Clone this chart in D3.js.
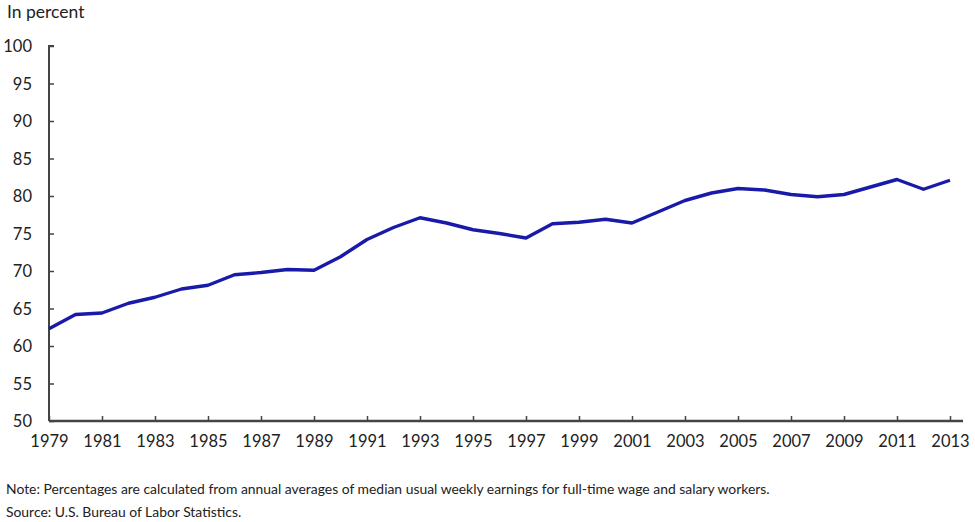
<!DOCTYPE html>
<html><head><meta charset="utf-8">
<script src="https://cdn.jsdelivr.net/npm/d3@7"></script>
<style>body{margin:0;background:#fff}svg{display:block}text{font-family:Lato,"Open Sans",sans-serif;fill:#222}</style>
</head><body><svg id="c" width="975" height="522"></svg>
<script>
const years = [1979,1980,1981,1982,1983,1984,1985,1986,1987,1988,1989,1990,1991,1992,1993,1994,1995,1996,1997,1998,1999,2000,2001,2002,2003,2004,2005,2006,2007,2008,2009,2010,2011,2012,2013];
const ratio = [62.3,64.2,64.4,65.7,66.5,67.6,68.1,69.5,69.8,70.2,70.1,71.9,74.2,75.8,77.1,76.4,75.5,75.0,74.4,76.3,76.5,76.9,76.4,77.9,79.4,80.4,81.0,80.8,80.2,79.9,80.2,81.2,82.2,80.9,82.1];
const yTicks = [50,55,60,65,70,75,80,85,90,95,100];
const xTicks = [1979,1981,1983,1985,1987,1989,1991,1993,1995,1997,1999,2001,2003,2005,2007,2009,2011,2013];
const yLabel = "In percent";
const note = "Note: Percentages are calculated from annual averages of median usual weekly earnings for full-time wage and salary workers.";
const source = "Source: U.S. Bureau of Labor Statistics.";

const svg = d3.select("#c");
const x = d3.scaleLinear().domain([1979,2013]).range([49,950]);
const y = d3.scaleLinear().domain([50,100]).range([421,46]);
const axisColor = "#444";

// y axis
const ya = svg.append("g").attr("transform","translate(49,0)")
  .call(d3.axisRight(y).tickValues(yTicks).tickSize(5).tickFormat(d=>d));
ya.select(".domain").attr("stroke",axisColor).attr("stroke-width",2).attr("d","M5,46H0V421");
ya.selectAll(".tick line").attr("stroke",axisColor).attr("stroke-width",1.5);
ya.selectAll(".tick text").attr("x",-17).attr("text-anchor","end").attr("font-size",16.5).attr("fill","#222").attr("dy","0.36em");

// x axis
const xa = svg.append("g").attr("transform","translate(0,421)")
  .call(d3.axisTop(x).tickValues(xTicks).tickSize(5).tickFormat(d3.format("d")));
xa.select(".domain").attr("stroke",axisColor).attr("stroke-width",2.5).attr("d","M49,0H963");
xa.selectAll(".tick line").attr("stroke",axisColor).attr("stroke-width",1.5);
xa.selectAll(".tick text").attr("y",26).attr("font-size",16.5).attr("fill","#222").attr("dy","0");

// line
svg.append("path").datum(years.map((yr,i)=>[yr,ratio[i]]))
  .attr("fill","none").attr("stroke","#1a1aaa").attr("stroke-width",3.4).attr("stroke-linejoin","round")
  .attr("d", d3.line().x(d=>x(d[0])).y(d=>y(d[1])));

svg.append("text").attr("x",7).attr("y",18).attr("font-size",17.5).text(yLabel);
svg.append("text").attr("x",6).attr("y",494).attr("font-size",13.9).text(note);
svg.append("text").attr("x",6).attr("y",517).attr("font-size",13.9).text(source);
</script></body></html>
